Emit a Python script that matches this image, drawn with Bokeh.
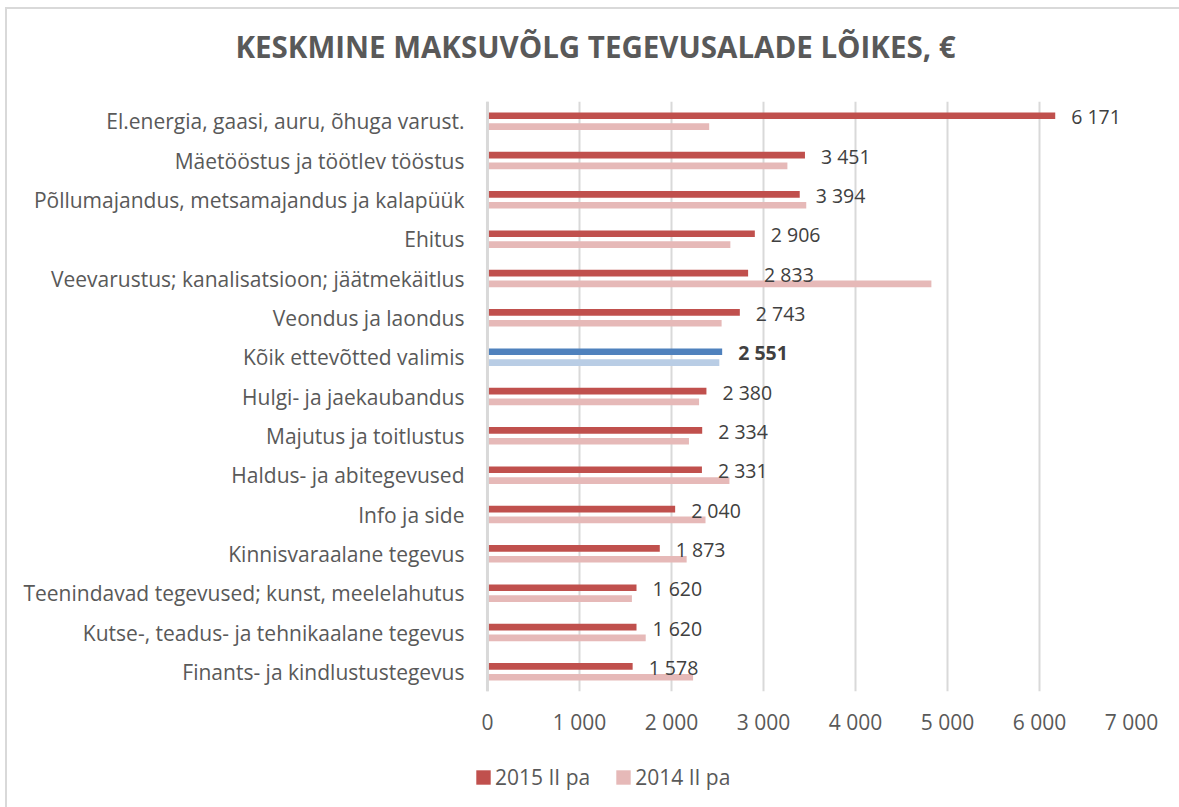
from bokeh.plotting import figure
from bokeh.models import (ColumnDataSource, FactorRange, Range1d, FixedTicker,
                          Legend, LegendItem, LinearAxis, Span)
from bokeh.layouts import column
from bokeh.transform import dodge
from bokeh.embed import file_html
from bokeh.resources import INLINE
from bokeh.core.properties import value

# ---------------- data ----------------
categories = [
    "El.energia, gaasi, auru, õhuga varust.",
    "Mäetööstus ja töötlev tööstus",
    "Põllumajandus, metsamajandus ja kalapüük",
    "Ehitus",
    "Veevarustus; kanalisatsioon; jäätmekäitlus",
    "Veondus ja laondus",
    "Kõik ettevõtted valimis",
    "Hulgi- ja jaekaubandus",
    "Majutus ja toitlustus",
    "Haldus- ja abitegevused",
    "Info ja side",
    "Kinnisvaraalane tegevus",
    "Teenindavad tegevused; kunst, meelelahutus",
    "Kutse-, teadus- ja tehnikaalane tegevus",
    "Finants- ja kindlustustegevus",
]
values_2015 = [6171, 3451, 3394, 2906, 2833, 2743, 2551, 2380, 2334, 2331,
               2040, 1873, 1620, 1620, 1578]
values_2014 = [2410, 3260, 3465, 2640, 4825, 2545, 2520, 2300, 2190, 2630,
               2370, 2165, 1570, 1720, 2235]
series_names = ["2015 II pa", "2014 II pa"]
highlight = "Kõik ettevõtted valimis"
x_ticks = [0, 1000, 2000, 3000, 4000, 5000, 6000, 7000]
x_tick_labels = ["0", "1 000", "2 000", "3 000", "4 000", "5 000", "6 000", "7 000"]
title_text = "KESKMINE MAKSUVÕLG TEGEVUSALADE LÕIKES, €"

# ---------------- styling ----------------
RED, PINK = "#C0504D", "#E6B9B8"
BLUE, LBLUE = "#4F81BD", "#B9CDE5"
FONT = "Open Sans"

c15 = [BLUE if c == highlight else RED for c in categories]
c14 = [LBLUE if c == highlight else PINK for c in categories]
lbl = [f"{v:,}".replace(",", " ") for v in values_2015]
styles = ["bold" if c == highlight else "normal" for c in categories]

src = ColumnDataSource(dict(cat=categories, v15=values_2015, v14=values_2014,
                            c15=c15, c14=c14, lbl=lbl, fs=styles))

W, H, HL = 1172, 736, 62
# small left padding of the value axis so the legend can start left of the zero line
p = figure(width=W, height=H, output_backend="svg", toolbar_location=None,
           y_range=FactorRange(*reversed(categories)),
           x_range=Range1d(-130, 7000),
           min_border_left=468, min_border_right=48,
           min_border_top=92, min_border_bottom=54)
p.outline_line_color = None
p.background_fill_color = "white"
p.border_fill_color = "white"

r15 = p.hbar(y=dodge("cat", 0.137, range=p.y_range), right="v15", left=0,
             height=0.17, fill_color="c15", line_color=None, source=src)
r14 = p.hbar(y=dodge("cat", -0.137, range=p.y_range), right="v14", left=0,
             height=0.17, fill_color="c14", line_color=None, source=src)

p.text(x="v15", y=dodge("cat", 0.11, range=p.y_range), text="lbl", source=src,
       x_offset=16, text_align="left", text_baseline="middle",
       text_font=value(FONT), text_font_size="19.5px", text_color="#404040",
       text_font_style="fs")

# grid / axes
p.ygrid.grid_line_color = None
p.xgrid.grid_line_color = "#d9d9d9"
p.xgrid.grid_line_width = 2
p.add_layout(Span(location=0, dimension="height", line_color="#d9d9d9",
                  line_width=3))
xax = p.below[0]
xax.ticker = FixedTicker(ticks=x_ticks)
xax.major_label_overrides = {t: s for t, s in zip(x_ticks, x_tick_labels)}
xax.axis_line_color = None
xax.major_tick_line_color = None
xax.minor_tick_line_color = None
xax.major_label_standoff = 10
xax.major_label_text_font = FONT
xax.major_label_text_font_size = "21px"
xax.major_label_text_color = "#595959"

p.yaxis.axis_line_color = None
p.yaxis.major_tick_line_color = None
p.yaxis.minor_tick_line_color = None
p.yaxis.major_label_standoff = 5
p.yaxis.major_label_text_font = FONT
p.yaxis.major_label_text_font_size = "21px"
p.yaxis.major_label_text_color = "#595959"

# spacer between title and plot area
spacer = LinearAxis(ticker=FixedTicker(ticks=[]), axis_line_color=None,
                    major_tick_line_color=None, minor_tick_line_color=None,
                    major_tick_out=0, major_tick_in=0, minor_tick_out=0,
                    minor_tick_in=0, major_label_standoff=0,
                    axis_label=" ", axis_label_text_font_size="1px",
                    axis_label_standoff=24)
p.add_layout(spacer, "above")

# title
p.title.text = title_text
p.title.align = "left"
p.title.offset = -240
p.title.vertical_align = "top"
p.title.standoff = 10
p.title.text_font = FONT
p.title.text_font_size = "29.5px"
p.title.text_font_style = "bold"
p.title.text_color = "#595959"

# legend strip below the chart (its plot area lines up with the chart's)
pl = figure(width=W, height=HL, output_backend="svg", toolbar_location=None,
            x_range=Range1d(0, 1), y_range=Range1d(0, 1),
            x_axis_type=None, y_axis_type=None,
            min_border_left=0, min_border_right=0,
            min_border_top=0, min_border_bottom=0)
pl.outline_line_color = None
pl.outline_line_alpha = 0
pl.background_fill_color = "white"
pl.border_fill_color = "white"
k15 = pl.hbar(y=[-5], right=[0.001], left=[0], height=0.01, fill_color=RED,
              line_color=None)
k14 = pl.hbar(y=[-5], right=[0.001], left=[0], height=0.01, fill_color=PINK,
              line_color=None)
legend = Legend(items=[LegendItem(label=series_names[0], renderers=[k15]),
                       LegendItem(label=series_names[1], renderers=[k14])],
                orientation="horizontal", location=(-1, 16),
                glyph_width=18, glyph_height=18, label_standoff=3, spacing=24,
                padding=0, margin=0, border_line_color=None,
                background_fill_alpha=0,
                label_text_font=FONT, label_text_font_size="21px",
                label_text_color="#595959")
pl.add_layout(legend, "center")

layout = column(p, pl, spacing=0,
                styles={"margin-left": "5px", "margin-top": "7px",
                        "border-left": "2px solid #d9d9d9",
                        "border-top": "2px solid #d9d9d9"})

open("out.html", "w").write(file_html(layout, INLINE))
